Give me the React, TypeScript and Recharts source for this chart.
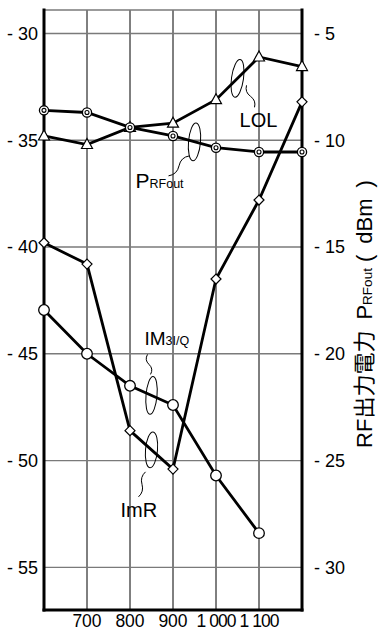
import React from 'react'
import { LineChart, Line, XAxis, YAxis, CartesianGrid, ReferenceDot } from 'recharts'

// frequency (MHz)
const freqs = [600, 700, 800, 900, 1000, 1100, 1200]
// RF output power, right axis (dBm)
const prfOut = [-8.6, -8.7, -9.4, -9.8, -10.35, -10.55, -10.55]
// left axis series
const lol = [-34.8, -35.2, -34.4, -34.2, -33.1, -31.1, -31.55]
const im3 = [-39.8, -40.8, -48.6, -50.4, -41.5, -37.8, -33.2]
const imr = [-42.95, -45.0, -46.5, -47.4, -50.7, -53.4, null]

const leftTicks = [-55, -50, -45, -40, -35, -30]
const rightTicks = [-30, -25, -20, -15, -10, -5]
const freqTicks = [700, 800, 900, 1000, 1100]

const FONT = "'Liberation Sans', Arial, 'Noto Sans CJK JP', sans-serif"

const data = freqs.map((f, i) => ({ f, prfOut: prfOut[i], lol: lol[i], im3: im3[i], imr: imr[i] }))

// callouts sit on the middle of the segment their ellipse wraps
const mid = (arr: (number | null)[], i: number) => ({
  x: (freqs[i] + freqs[i + 1]) / 2,
  y: ((arr[i] as number) + (arr[i + 1] as number)) / 2,
})
const lolMark = mid(lol, 4)
const prfMark = mid(prfOut, 3)
const im3Mark = mid(imr, 2)
const imrMark = mid(im3, 2)

// thousands split with a space: 1 000, 1 100
const fmtFreq = (v: number) => (v >= 1000 ? `${Math.floor(v / 1000)} ${String(v % 1000).padStart(3, '0')}` : `${v}`)
const fmtDb = (v: number) => `- ${Math.abs(v)}`

function squiggle(x0: number, y0: number, x1: number, y1: number, amp: number) {
  const dx = x1 - x0
  const dy = y1 - y0
  const len = Math.hypot(dx, dy)
  const nx = (-dy / len) * amp
  const ny = (dx / len) * amp
  const mx = (x0 + x1) / 2
  const my = (y0 + y1) / 2
  return `M${x0},${y0} Q${x0 + dx * 0.25 + nx},${y0 + dy * 0.25 + ny} ${mx},${my} T${x1},${y1}`
}

const DoubleCircle = (p: any) => {
  if (p.cx == null || p.cy == null || p.value == null) return <g key={p.index} />
  return (
    <g key={p.index}>
      <circle cx={p.cx} cy={p.cy} r={4.6} fill="#fff" stroke="#000" strokeWidth={1.3} />
      <circle cx={p.cx} cy={p.cy} r={2} fill="#fff" stroke="#000" strokeWidth={1.1} />
    </g>
  )
}

const OpenCircle = (p: any) => {
  if (p.cx == null || p.cy == null || p.value == null) return <g key={p.index} />
  return <circle key={p.index} cx={p.cx} cy={p.cy} r={5.3} fill="#fff" stroke="#000" strokeWidth={1.3} />
}

const Triangle = (p: any) => {
  if (p.cx == null || p.cy == null) return <g key={p.index} />
  const { cx, cy } = p
  return (
    <polygon
      key={p.index}
      points={`${cx},${cy - 6} ${cx + 5.5},${cy + 4} ${cx - 5.5},${cy + 4}`}
      fill="#fff"
      stroke="#000"
      strokeWidth={1.2}
    />
  )
}

const Diamond = (p: any) => {
  if (p.cx == null || p.cy == null) return <g key={p.index} />
  const { cx, cy } = p
  return (
    <polygon
      key={p.index}
      points={`${cx},${cy - 5} ${cx + 5},${cy} ${cx},${cy + 5} ${cx - 5},${cy}`}
      fill="#fff"
      stroke="#000"
      strokeWidth={1.2}
    />
  )
}

// ellipse round a segment, a wavy leader and the series name
function callout(opts: {
  rx: number
  ry: number
  tilt: number
  from: [number, number]
  to: [number, number]
  amp: number
  tx: number
  ty: number
  name: string
  sub?: string
  size: number
  anchor?: 'start' | 'middle'
}) {
  return (p: any) => {
    const { cx, cy } = p
    if (cx == null || cy == null) return <g />
    return (
      <g>
        <ellipse
          cx={cx}
          cy={cy}
          rx={opts.rx}
          ry={opts.ry}
          fill="none"
          stroke="#000"
          strokeWidth={1}
          transform={`rotate(${opts.tilt}, ${cx}, ${cy})`}
        />
        <path
          d={squiggle(cx + opts.from[0], cy + opts.from[1], cx + opts.to[0], cy + opts.to[1], opts.amp)}
          fill="none"
          stroke="#000"
          strokeWidth={1}
        />
        <text
          x={cx + opts.tx}
          y={cy + opts.ty}
          fontFamily={FONT}
          fontSize={opts.size}
          fill="#000"
          textAnchor={opts.anchor || 'start'}
        >
          {opts.name}
          {opts.sub && <tspan fontSize={12.5}>{opts.sub}</tspan>}
        </text>
      </g>
    )
  }
}

const RightLabel = (props: any) => {
  const vb = props.viewBox || { x: 302, y: 10, width: 76, height: 600 }
  const x = vb.x + 70
  const y = vb.y + vb.height / 2 + 4
  return (
    <text
      x={x}
      y={y}
      transform={`rotate(-90, ${x}, ${y})`}
      textAnchor="middle"
      fontFamily={FONT}
      fontSize={22}
      fill="#000"
    >
      RF出力電力{'\u2002'}P<tspan fontSize={13.5}>RFout</tspan>
      <tspan fontSize={22}>{' (\u2002dBm\u2002)'}</tspan>
    </text>
  )
}

// frequency labels; the four-digit ones are set tighter so they don't run together
const FreqTick = (props: any) => {
  const { x, y, payload } = props
  const v = payload.value as number
  return (
    <text
      x={x}
      y={y}
      dy="0.71em"
      textAnchor="middle"
      fontFamily={FONT}
      fontSize={17.5}
      fill="#000"
      letterSpacing={v >= 1000 ? -1 : 0}
    >
      {fmtFreq(v)}
    </text>
  )
}

const yTickStyle = { fill: '#000', fontSize: 18, fontFamily: FONT }
const frame = { stroke: '#000', strokeWidth: 3, strokeLinecap: 'square' as const }

export default function App() {
  return (
    <div style={{ position: 'absolute', left: 0, top: 0, width: 378, height: 633, background: '#fff' }}>
      <LineChart width={378} height={633} data={data} margin={{ top: 10, right: 0, bottom: 0, left: 0 }}>
        <CartesianGrid horizontal={false} stroke="#000" strokeWidth={1} />
        <CartesianGrid vertical={false} stroke="#7a7a7a" strokeWidth={1.3} />
        <XAxis
          dataKey="f"
          type="number"
          domain={[600, 1200]}
          ticks={freqTicks}
          interval={0}
          axisLine={frame}
          tickLine={false}
          tickSize={0}
          tickMargin={5}
          height={23}
          tick={FreqTick}
        />
        <XAxis
          xAxisId="top"
          dataKey="f"
          type="number"
          orientation="top"
          domain={[600, 1200]}
          tick={false}
          tickLine={false}
          axisLine={frame}
          height={0}
        />
        <YAxis
          domain={[-57, -28.9]}
          ticks={leftTicks}
          interval={0}
          allowDataOverflow
          tickFormatter={fmtDb}
          axisLine={frame}
          tickLine={false}
          tickSize={0}
          tickMargin={6}
          width={44}
          tick={yTickStyle}
        />
        <YAxis
          yAxisId="r"
          orientation="right"
          domain={[-32, -3.9]}
          ticks={rightTicks}
          interval={0}
          allowDataOverflow
          tickFormatter={fmtDb}
          axisLine={frame}
          tickLine={false}
          tickSize={0}
          tickMargin={12}
          width={76}
          tick={{ ...yTickStyle, textAnchor: 'start' }}
          label={{ content: RightLabel }}
        />

        <Line dataKey="imr" stroke="#000" strokeWidth={2.8} dot={OpenCircle} activeDot={false} isAnimationActive={false} />
        <Line dataKey="im3" stroke="#000" strokeWidth={2.8} dot={Diamond} activeDot={false} isAnimationActive={false} />
        <Line dataKey="lol" stroke="#000" strokeWidth={2.8} dot={Triangle} activeDot={false} isAnimationActive={false} />
        <Line
          yAxisId="r"
          dataKey="prfOut"
          stroke="#000"
          strokeWidth={2.8}
          dot={DoubleCircle}
          activeDot={false}
          isAnimationActive={false}
        />

        <ReferenceDot
          x={lolMark.x}
          y={lolMark.y}
          shape={callout({ rx: 6, ry: 19, tilt: 8, from: [9, 7], to: [17, 29], amp: 4, tx: 21, ty: 49, name: 'LOL', size: 20, anchor: 'middle' })}
        />
        <ReferenceDot
          yAxisId="r"
          x={prfMark.x}
          y={prfMark.y}
          shape={callout({ rx: 6, ry: 19, tilt: 5, from: [-5, 14], to: [-26, 34], amp: 5, tx: -59, ty: 46, name: 'P', sub: 'RFout', size: 21 })}
        />
        <ReferenceDot
          x={im3Mark.x}
          y={im3Mark.y}
          shape={callout({ rx: 5.5, ry: 19, tilt: 5, from: [-1, -21], to: [-4, -41], amp: 4, tx: -7, ty: -50, name: 'IM', sub: '3I/Q', size: 19 })}
        />
        <ReferenceDot
          x={imrMark.x}
          y={imrMark.y}
          shape={callout({ rx: 6, ry: 18, tilt: 5, from: [-6, 22], to: [-13, 47], amp: 4, tx: -31, ty: 67, name: 'ImR', size: 20 })}
        />
      </LineChart>
    </div>
  )
}
